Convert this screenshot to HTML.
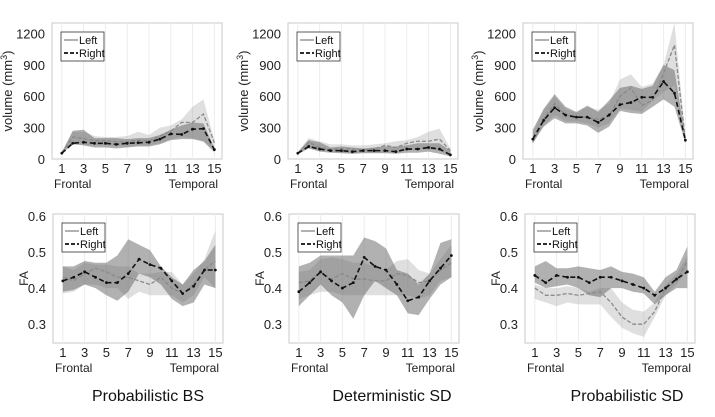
<!DOCTYPE html>
<html><head><meta charset="utf-8"><style>
body{margin:0;background:#fff;font-family:"Liberation Sans",sans-serif}
svg{display:block}
</style></head><body>
<svg id="c" width="715" height="417" viewBox="0 0 715 417" xmlns="http://www.w3.org/2000/svg"></svg>
<script>
const regions=[1,2,3,4,5,6,7,8,9,10,11,12,13,14,15];
const xTicks=[1,3,5,7,9,11,13,15];
const volTicks=[0,300,600,900,1200];
const faTicks=[0.3,0.4,0.5,0.6];
const titles=["Probabilistic BS","Deterministic SD","Probabilistic SD"];
// volume
const v1L=[60,210,195,175,175,165,165,180,170,220,265,350,350,430,155];
const v1R=[55,150,160,150,150,140,150,155,160,190,240,235,285,290,90];
const v1DU=[60,270,280,200,200,200,190,200,200,230,280,320,350,340,100];
const v1DL=[50,140,130,110,110,100,110,120,120,140,180,190,190,170,70];
const v1LU=[70,260,260,220,210,210,220,260,230,300,320,380,500,570,180];
const v1LL=[50,170,130,130,130,120,120,130,130,150,190,210,200,160,60];
const v2L=[55,160,110,90,100,95,90,95,130,110,150,170,170,190,80];
const v2R=[55,120,95,80,80,70,80,80,80,70,95,95,110,95,40];
const v2DU=[65,180,160,110,120,110,100,110,120,120,130,150,150,150,80];
const v2DL=[45,100,70,60,55,50,55,55,55,50,60,60,70,50,25];
const v2LU=[70,200,170,140,140,130,130,140,150,170,180,210,260,290,100];
const v2LL=[45,110,80,70,60,50,60,60,60,60,80,90,90,80,30];
const v3L=[160,380,530,420,400,400,380,410,600,680,510,560,820,1090,180];
const v3R=[190,370,490,420,400,400,350,420,520,540,590,590,740,630,180];
const v3DU=[280,480,620,500,450,510,450,560,680,700,670,700,900,850,200];
const v3DL=[150,310,390,340,340,320,250,310,460,440,430,500,570,500,150];
const v3LU=[250,470,600,480,440,500,470,530,760,810,690,720,900,1300,220];
const v3LL=[150,320,420,360,360,340,300,340,480,470,450,560,640,700,150];
// FA
const f1L=[0.43,0.42,0.44,0.455,0.445,0.43,0.43,0.42,0.41,0.43,0.40,0.385,0.41,0.45,0.475];
const f1R=[0.42,0.43,0.445,0.43,0.415,0.415,0.44,0.48,0.465,0.455,0.42,0.385,0.405,0.45,0.45];
const f1DU=[0.46,0.46,0.475,0.47,0.47,0.49,0.535,0.52,0.505,0.46,0.43,0.41,0.45,0.475,0.52];
const f1DL=[0.39,0.395,0.41,0.40,0.38,0.365,0.39,0.44,0.43,0.41,0.37,0.35,0.36,0.41,0.40];
const f1LU=[0.46,0.45,0.47,0.465,0.465,0.46,0.46,0.44,0.44,0.445,0.445,0.41,0.44,0.48,0.56];
const f1LL=[0.385,0.39,0.41,0.41,0.40,0.40,0.37,0.39,0.38,0.38,0.38,0.36,0.38,0.43,0.40];
const f2L=[0.415,0.42,0.445,0.425,0.44,0.425,0.425,0.42,0.42,0.44,0.435,0.415,0.42,0.45,0.47];
const f2R=[0.39,0.415,0.445,0.42,0.40,0.415,0.485,0.46,0.45,0.41,0.365,0.375,0.42,0.455,0.49];
const f2DU=[0.46,0.47,0.49,0.49,0.49,0.49,0.54,0.53,0.51,0.45,0.44,0.41,0.44,0.525,0.535];
const f2DL=[0.35,0.38,0.41,0.38,0.36,0.315,0.38,0.42,0.40,0.38,0.33,0.325,0.37,0.41,0.43];
const f2LU=[0.445,0.45,0.48,0.485,0.48,0.47,0.47,0.46,0.45,0.475,0.48,0.45,0.44,0.48,0.52];
const f2LL=[0.37,0.38,0.39,0.39,0.38,0.38,0.38,0.38,0.38,0.38,0.38,0.37,0.38,0.42,0.43];
const f3L=[0.40,0.38,0.38,0.385,0.38,0.385,0.39,0.36,0.32,0.30,0.30,0.335,0.40,0.42,0.475];
const f3R=[0.435,0.415,0.435,0.43,0.43,0.415,0.43,0.43,0.42,0.41,0.40,0.38,0.40,0.425,0.445];
const f3DU=[0.46,0.475,0.455,0.455,0.46,0.455,0.45,0.46,0.445,0.44,0.43,0.39,0.43,0.45,0.515];
const f3DL=[0.415,0.40,0.405,0.41,0.40,0.38,0.375,0.40,0.40,0.39,0.385,0.355,0.38,0.40,0.40];
const f3LU=[0.41,0.40,0.40,0.405,0.40,0.39,0.40,0.40,0.36,0.34,0.335,0.36,0.41,0.44,0.49];
const f3LL=[0.37,0.36,0.35,0.36,0.355,0.355,0.355,0.32,0.29,0.275,0.265,0.32,0.38,0.41,0.45];

const svg=document.getElementById('c');
const NS='http://www.w3.org/2000/svg';
function mk(t,a,p){const e=document.createElementNS(NS,t);for(const k in a)e.setAttribute(k,a[k]);(p||svg).appendChild(e);return e;}

function panel(px,py,w,h,ymin,ymax,ticks,fmt,ylabel,L,R,DU,DL,LU,LL,name,yl){
  const g=mk('g',{});
  
  
  const xs=v=>px+(v-0.1)/(15.7-0.1)*w;
  const ys=v=>py+h-(v-ymin)/(ymax-ymin)*h;
  mk('rect',{x:px,y:py,width:w,height:h,fill:'#fff',stroke:'#c8c8c8','stroke-width':1},g);
  xTicks.forEach(t=>{const l=mk('line',{x1:xs(t),x2:xs(t),y1:py,y2:py+h,stroke:'#ececec','stroke-width':1},g);
    
    const tx=mk('text',{x:xs(t),y:py+h+14,'font-size':13,'text-anchor':'middle',fill:'#222'},g);tx.textContent=t;
    });
  ticks.forEach(t=>{const tx=mk('text',{x:px-7,y:ys(t)+5,'font-size':13,'text-anchor':'end',fill:'#222'},g);tx.textContent=fmt(t);
    });
  const fr=mk('text',{x:px+2,y:py+h+29,'font-size':12,fill:'#222'},g);fr.textContent='Frontal';
  
  const te=mk('text',{x:px+w-4,y:py+h+29,'font-size':12,fill:'#222','text-anchor':'end'},g);te.textContent='Temporal';
  
  const band=(U,D,fill,nm)=>{let pts=regions.map((r,i)=>xs(r)+','+ys(U[i]));pts=pts.concat(regions.map((r,i)=>xs(r)+','+ys(D[i])).reverse());
    const p=mk('polygon',{points:pts.join(' '),fill:fill},g);};
  band(LU,LL,'rgba(150,150,150,0.3)','left-band');
  band(DU,DL,'rgba(100,100,100,0.5)','right-band');
  const pl=mk('polyline',{points:regions.map((r,i)=>xs(r)+','+ys(L[i])).join(' '),fill:'none',stroke:'#8a8a8a','stroke-width':1.3,'stroke-dasharray':'4,2'},g);
  
  const pr=mk('polyline',{points:regions.map((r,i)=>xs(r)+','+ys(R[i])).join(' '),fill:'none',stroke:'#111','stroke-width':1.6,'stroke-dasharray':'5,3'},g);
  
  regions.forEach((r,i)=>{const c=mk('circle',{cx:xs(r),cy:ys(R[i]),r:1.4,fill:'#111'},g);});
  const lg=mk('g',{},g);
  const lx=px+9,ly=py+9;
  mk('rect',{x:lx,y:ly,width:43,height:29,fill:'#fff',stroke:'#333','stroke-width':0.8},lg);
  mk('line',{x1:lx+3,x2:lx+17,y1:ly+8,y2:ly+8,stroke:'#888','stroke-width':1.3},lg);
  mk('line',{x1:lx+3,x2:lx+17,y1:ly+21,y2:ly+21,stroke:'#111','stroke-width':1.8,'stroke-dasharray':'4,2'},lg);
  const a=mk('text',{x:lx+18,y:ly+12,'font-size':11,fill:'#111'},lg);a.textContent='Left';
  
  const b=mk('text',{x:lx+18,y:ly+25,'font-size':11,fill:'#111'},lg);b.textContent='Right';
  
  const yt=mk('text',{x:yl,y:py+h/2,'font-size':ylabel==='FA'?12:13,fill:'#222','text-anchor':'middle',transform:`rotate(-90 ${yl} ${py+h/2})`},g);
  
  if(ylabel==='FA'){yt.textContent='FA';}else{yt.textContent='volume (mm';const s=mk('tspan',{dy:-5,'font-size':9},yt);s.textContent='3';const s2=mk('tspan',{dy:5},yt);s2.textContent=')';}
}
const topX=[52,288,523],botX=[53,289,525];
const V=[[v1L,v1R,v1DU,v1DL,v1LU,v1LL],[v2L,v2R,v2DU,v2DL,v2LU,v2LL],[v3L,v3R,v3DU,v3DL,v3LU,v3LL]];
const F=[[f1L,f1R,f1DU,f1DL,f1LU,f1LL],[f2L,f2R,f2DU,f2DL,f2LU,f2LL],[f3L,f3R,f3DU,f3DL,f3LU,f3LL]];
for(let i=0;i<3;i++){
  panel(topX[i],23,170,136,0,1300,volTicks,t=>t,'vol',...V[i],'volume-panel-'+(i+1),topX[i]-40);
  panel(botX[i],214,170,129,0.248,0.605,faTicks,t=>t.toFixed(1),'FA',...F[i],'fa-panel-'+(i+1),botX[i]-25);
  const t=mk('text',{x:[148,392,627][i],y:401,'font-size':16,'text-anchor':'middle',fill:'#111'});
  t.textContent=titles[i];
  
  
}
</script>
</body></html>
